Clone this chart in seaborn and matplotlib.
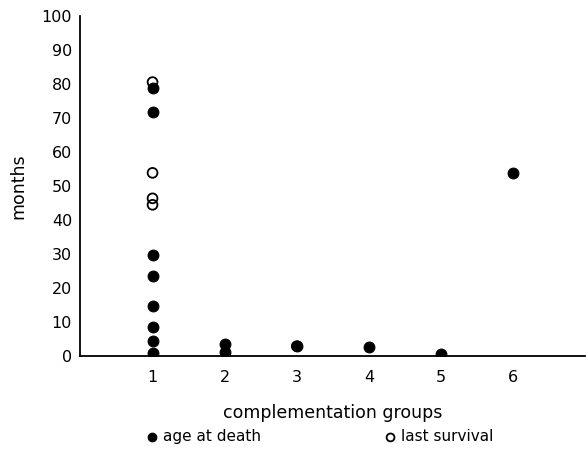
import matplotlib
matplotlib.use("Agg")
import matplotlib.pyplot as plt
import seaborn as sns
import pandas as pd

# values
death_groups = [1, 1, 1, 1, 1, 1, 1, 1, 2, 2, 3, 4, 5, 6]
death_months = [79, 71.7, 29.8, 23.7, 14.7, 8.6, 4.5, 0.8, 3.6, 1.2, 2.9, 2.8, 0.6, 53.8]

survival_groups = [1, 1, 1, 1, 3]
survival_months = [80.6, 53.9, 46.4, 44.5, 2.9]

group_ticks = [1, 2, 3, 4, 5, 6]
month_ticks = list(range(0, 101, 10))

df_death = pd.DataFrame({"group": death_groups, "months": death_months})
df_surv = pd.DataFrame({"group": survival_groups, "months": survival_months})

sns.set_style("white")
plt.rcParams["font.family"] = ["DejaVu Sans"]
plt.rcParams.update({"text.color": "black", "axes.labelcolor": "black",
                     "xtick.color": "black", "ytick.color": "black"})

fig = plt.figure(figsize=(5.87, 4.49), dpi=100)
ax = fig.add_axes([0.137, 0.207, 0.86, 0.757])

sns.scatterplot(data=df_death, x="group", y="months", ax=ax, color="black",
                edgecolor="black", s=60, linewidth=0.8, zorder=3,
                label="age at death")
sns.scatterplot(data=df_surv, x="group", y="months", ax=ax, facecolor="none",
                edgecolor="black", s=50, linewidth=1.3, zorder=4,
                label="last survival")

ax.set_xlim(0, 7)
ax.set_ylim(0, 100)
ax.set_xticks(group_ticks)
ax.set_yticks(month_ticks)
ax.tick_params(axis="x", direction="in", length=3, width=1, labelsize=11.5, pad=10)
ax.tick_params(axis="y", direction="out", length=4, width=1, labelsize=11.5, pad=2)
for side in ["top", "right"]:
    ax.spines[side].set_visible(False)
for side in ["left", "bottom"]:
    ax.spines[side].set_color("black")
    ax.spines[side].set_linewidth(1.3)

ax.set_xlabel("complementation groups", fontsize=12.5, labelpad=14)
ax.set_ylabel("months", fontsize=12.5, labelpad=10)

ax.legend(loc="center", bbox_to_anchor=(0.465, -0.238), ncol=2, frameon=False,
          fontsize=11, handletextpad=-0.3, columnspacing=7.5, markerscale=0.8,
          borderpad=0)

fig.savefig("out.png", dpi=100)
